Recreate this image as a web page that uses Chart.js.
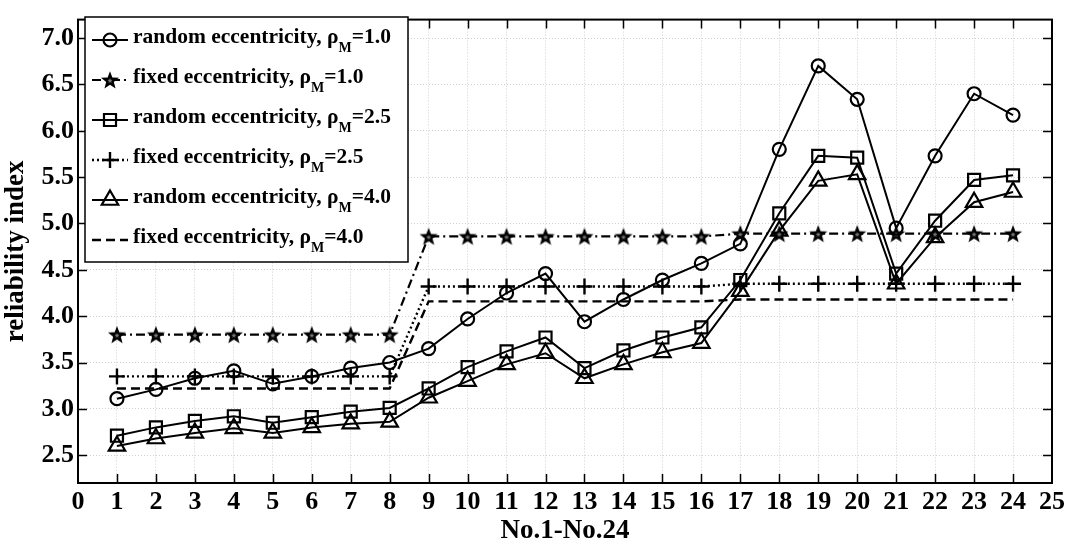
<!DOCTYPE html>
<html>
<head>
<meta charset="utf-8">
<script src="https://cdn.jsdelivr.net/npm/chart.js@4/dist/chart.umd.min.js"></script>
<style>
  html, body { margin: 0; padding: 0; background: #fff; }
  canvas { display: block; }
</style>
</head>
<body>
<canvas id="c" width="1069" height="549"></canvas>
<script>
// ---------- data ----------
const categories = [1,2,3,4,5,6,7,8,9,10,11,12,13,14,15,16,17,18,19,20,21,22,23,24];
const random10 = [3.11,3.21,3.33,3.41,3.27,3.35,3.44,3.50,3.65,3.97,4.25,4.46,3.94,4.18,4.39,4.57,4.78,5.80,6.70,6.34,4.95,5.73,6.40,6.17];
const fixed10  = [3.80,3.80,3.80,3.80,3.80,3.80,3.80,3.80,4.86,4.86,4.86,4.86,4.86,4.86,4.86,4.86,4.89,4.89,4.89,4.89,4.89,4.89,4.89,4.89];
const random25 = [2.71,2.80,2.87,2.92,2.85,2.91,2.97,3.01,3.22,3.45,3.62,3.77,3.44,3.63,3.77,3.88,4.39,5.11,5.73,5.71,4.46,5.03,5.47,5.52];
const fixed25  = [3.35,3.35,3.35,3.35,3.35,3.35,3.35,3.35,4.32,4.32,4.32,4.32,4.32,4.32,4.32,4.32,4.35,4.35,4.35,4.35,4.35,4.35,4.35,4.35];
const random40 = [2.60,2.68,2.74,2.79,2.74,2.80,2.84,2.86,3.12,3.30,3.48,3.60,3.33,3.48,3.61,3.71,4.27,4.92,5.46,5.53,4.35,4.85,5.23,5.34];
const fixed40  = [3.22,3.22,3.22,3.22,3.22,3.22,3.22,3.22,4.16,4.16,4.16,4.16,4.16,4.16,4.16,4.16,4.18,4.18,4.18,4.18,4.18,4.18,4.18,4.18];
const xTicks = [0,1,2,3,4,5,6,7,8,9,10,11,12,13,14,15,16,17,18,19,20,21,22,23,24,25];
const yTicks = [2.5,3.0,3.5,4.0,4.5,5.0,5.5,6.0,6.5,7.0];
const legendMain = ['random eccentricity, \u03C1','fixed eccentricity, \u03C1','random eccentricity, \u03C1','fixed eccentricity, \u03C1','random eccentricity, \u03C1','fixed eccentricity, \u03C1'];
const legendSub = 'M';
const legendTail = ['=1.0','=1.0','=2.5','=2.5','=4.0','=4.0'];
const yTitle = 'reliability index';
const xTitle = 'No.1-No.24';

const SERIF = "'Liberation Serif', 'Times New Roman', serif";

// pentagram marker image
function makeStar(size) {
  const c = document.createElement('canvas');
  c.width = size; c.height = size;
  const g = c.getContext('2d');
  const cx = size / 2, cy = size / 2 + 0.8;
  g.beginPath();
  for (let i = 0; i < 10; i++) {
    const r = (i % 2) ? size * 0.2 : size * 0.5 - 0.5;
    const a = -Math.PI / 2 + i * Math.PI / 5;
    g.lineTo(cx + r * Math.cos(a), cy + r * Math.sin(a));
  }
  g.closePath();
  g.fillStyle = '#000';
  g.fill();
  g.beginPath();
  for (let i = 0; i < 10; i++) {
    const r = (i % 2) ? 1.2 : 2.6;
    const a = -Math.PI / 2 + i * Math.PI / 5;
    g.lineTo(cx + r * Math.cos(a), cy + r * Math.sin(a));
  }
  g.closePath();
  g.fillStyle = '#777';
  g.fill();
  return c;
}
const starImg = makeStar(20);

function pts(vals) { return categories.map((x, i) => ({ x: x, y: vals[i] })); }

const common = { borderColor: '#000', pointBorderColor: '#000', pointBackgroundColor: 'rgba(0,0,0,0)', backgroundColor: 'rgba(0,0,0,0)', tension: 0, fill: false };

const datasets = [
  Object.assign({}, common, { label: 'r10', data: pts(random10), borderWidth: 2, pointStyle: 'circle', pointRadius: 6.5, pointBorderWidth: 2.2 }),
  Object.assign({}, common, { label: 'f10', data: pts(fixed10), borderWidth: 2.2, borderDash: [9, 4, 2, 4], pointStyle: starImg, pointRadius: 10, pointBorderWidth: 0 }),
  Object.assign({}, common, { label: 'r25', data: pts(random25), borderWidth: 2, pointStyle: 'rect', pointRadius: 8.5, pointBorderWidth: 2.2 }),
  Object.assign({}, common, { label: 'f25', data: pts(fixed25), borderWidth: 2.4, borderDash: [2, 3], pointStyle: 'cross', pointRadius: 8, pointBorderWidth: 2.4 }),
  Object.assign({}, common, { label: 'r40', data: pts(random40), borderWidth: 2, pointStyle: 'triangle', pointRadius: 9.5, pointBorderWidth: 2.2 }),
  Object.assign({}, common, { label: 'f40', data: pts(fixed40), borderWidth: 2.4, borderDash: [9, 5], pointStyle: 'circle', pointRadius: 0, pointBorderWidth: 0 })
];

const framePlugin = {
  id: 'frame',
  afterDatasetsDraw(chart) {
    const { ctx, chartArea: a, scales } = chart;
    ctx.save();
    ctx.strokeStyle = '#000';
    ctx.lineWidth = 1.5;
    ctx.beginPath();
    const tl = 9;
    xTicks.forEach(v => {
      if (v <= 0 || v >= 25) return;
      const x = Math.round(scales.x.getPixelForValue(v)) + 0.5;
      ctx.moveTo(x, a.bottom); ctx.lineTo(x, a.bottom - tl);
      ctx.moveTo(x, a.top); ctx.lineTo(x, a.top + tl);
    });
    yTicks.forEach(v => {
      const y = Math.round(scales.y.getPixelForValue(v)) + 0.5;
      ctx.moveTo(a.left, y); ctx.lineTo(a.left + tl, y);
      ctx.moveTo(a.right, y); ctx.lineTo(a.right - tl, y);
    });
    ctx.stroke();
    ctx.lineWidth = 2;
    ctx.strokeRect(a.left, a.top, a.right - a.left, a.bottom - a.top);
    ctx.restore();
  },
  afterDraw(chart) {
    const ctx = chart.ctx;
    ctx.save();
    // legend box
    const bx = 85, by = 17, bw = 323, bh = 245;
    ctx.fillStyle = '#fff';
    ctx.fillRect(bx, by, bw, bh);
    ctx.strokeStyle = '#000';
    ctx.lineWidth = 1.5;
    ctx.strokeRect(bx, by, bw, bh);
    chart.data.datasets.forEach((ds, i) => {
      const ly = 40 + 40 * i;
      // sample line
      ctx.save();
      ctx.strokeStyle = '#000';
      ctx.lineWidth = ds.borderWidth;
      ctx.setLineDash(ds.borderDash || []);
      ctx.beginPath();
      ctx.moveTo(92, ly); ctx.lineTo(128, ly);
      ctx.stroke();
      ctx.restore();
      if (ds.pointRadius > 0) {
        ctx.save();
        ctx.strokeStyle = '#000';
        ctx.fillStyle = 'rgba(0,0,0,0)';
        ctx.lineWidth = ds.pointBorderWidth;
        Chart.helpers.drawPoint(ctx, { pointStyle: ds.pointStyle, rotation: 0, radius: ds.pointRadius, borderWidth: ds.pointBorderWidth }, 110, ly);
        ctx.restore();
      }
      // text
      const base = 43 + 40 * i;
      ctx.fillStyle = '#000';
      ctx.textBaseline = 'alphabetic';
      ctx.textAlign = 'left';
      ctx.font = 'bold 21.5px ' + SERIF;
      let tx = 133;
      ctx.fillText(legendMain[i], tx, base);
      tx += ctx.measureText(legendMain[i]).width;
      ctx.font = 'bold 14px ' + SERIF;
      ctx.fillText(legendSub, tx, base + 9);
      tx += ctx.measureText(legendSub).width;
      ctx.font = 'bold 21.5px ' + SERIF;
      ctx.fillText(legendTail[i], tx, base);
    });
    ctx.restore();
  }
};

new Chart(document.getElementById('c'), {
  type: 'line',
  data: { datasets: datasets },
  plugins: [framePlugin],
  options: {
    responsive: false,
    devicePixelRatio: 1,
    animation: false,
    events: [],
    layout: { padding: { left: 0, right: 16, top: 7, bottom: 0 } },
    plugins: { legend: { display: false }, tooltip: { enabled: false } },
    scales: {
      x: {
        type: 'linear', min: 0, max: 25,
        afterBuildTicks: s => { s.ticks = xTicks.map(v => ({ value: v })); },
        afterFit: s => { s.height = 66; },
        grid: { color: '#cfcfcf', lineWidth: 1, drawTicks: false },
        border: { display: false, dash: [1, 2] },
        ticks: { color: '#000', padding: 4, autoSkip: false, maxRotation: 0, font: { family: SERIF, size: 26, weight: 'bold' }, callback: v => String(v) },
        title: { display: true, text: xTitle, color: '#000', padding: { top: 0, bottom: 2 }, font: { family: SERIF, size: 27, weight: 'bold', lineHeight: 1.2 } }
      },
      y: {
        type: 'linear', min: 2.2, max: 7.2,
        afterBuildTicks: s => { s.ticks = yTicks.map(v => ({ value: v })); },
        afterFit: s => { s.width = 78; },
        grid: { color: '#cfcfcf', lineWidth: 1, drawTicks: false },
        border: { display: false, dash: [1, 2] },
        ticks: { color: '#000', padding: 4, font: { family: SERIF, size: 26, weight: 'bold' }, callback: v => Number(v).toFixed(1) },
        title: { display: true, text: yTitle, color: '#000', padding: { top: 0, bottom: 0 }, font: { family: SERIF, size: 27, weight: 'bold', lineHeight: 1.2 } }
      }
    }
  }
});
</script>
</body>
</html>
